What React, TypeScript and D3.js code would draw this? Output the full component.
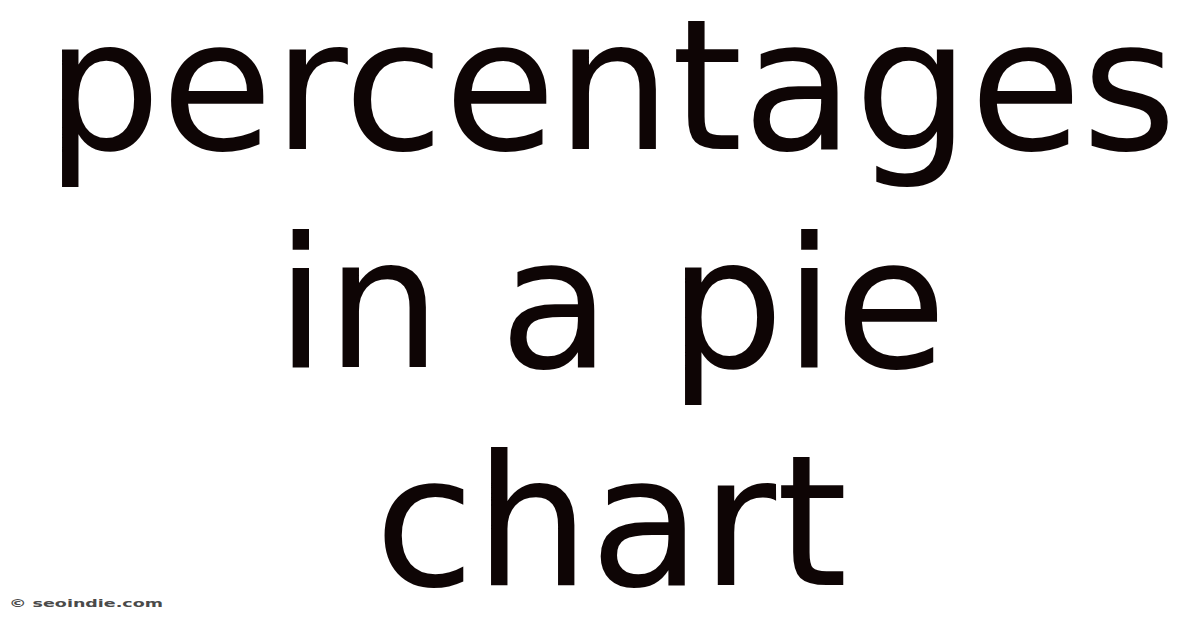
import * as d3 from 'd3';
import { useEffect, useRef } from 'react';

const titleLines = ['percentages', 'in a pie', 'chart'];
const footerText = '\u00a9 seoindie.com';

export default function App() {
    const ref = useRef<SVGSVGElement | null>(null);

    useEffect(() => {
        const svg = d3.select(ref.current);
        svg.selectAll('*').remove();

        const width = 1200;
        const height = 628;
        const fontSize = 182;
        const lineHeight = 218;
        const firstBaseline = 149;
        const centerX = 611;

        const y = d3.scaleLinear()
            .domain([0, titleLines.length - 1])
            .range([firstBaseline, firstBaseline + lineHeight * (titleLines.length - 1)]);

        svg.attr('width', width).attr('height', height);

        svg.append('rect')
            .attr('width', width)
            .attr('height', height)
            .attr('fill', '#ffffff');

        svg.append('g')
            .selectAll('text')
            .data(titleLines)
            .join('text')
            .attr('x', centerX)
            .attr('y', (_, i) => y(i))
            .attr('text-anchor', 'middle')
            .attr('font-family', '"DejaVu Sans", sans-serif')
            .attr('font-size', fontSize)
            .attr('fill', '#0e0505')
            .text(d => d);

        svg.append('text')
            .attr('x', 9)
            .attr('y', 607)
            .attr('font-family', '"DejaVu Sans", sans-serif')
            .attr('font-size', 11)
            .attr('font-weight', 'bold')
            .attr('fill', '#4a4a4a')
            .attr('textLength', 154)
            .attr('lengthAdjust', 'spacingAndGlyphs')
            .text(footerText);
    }, []);

    return (
        <svg
            ref={ref}
            style={{ position: 'absolute', left: 0, top: 0, display: 'block' }}
        ></svg>
    );
}
